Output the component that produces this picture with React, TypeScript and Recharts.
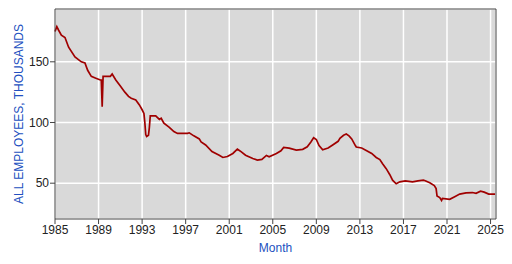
import {
  CartesianGrid,
  Line,
  LineChart,
  ReferenceLine,
  XAxis,
  YAxis,
} from "recharts";

// monthly readings, "YYYY-MM"
const months = [
  "1985-01", "1985-03", "1985-05", "1985-08", "1985-12", "1986-04", "1986-11",
  "1987-06", "1987-10", "1988-01", "1988-05", "1988-10", "1989-03", "1989-04",
  "1989-05", "1989-06", "1990-02", "1990-04", "1990-08", "1991-01", "1991-06",
  "1991-10", "1992-01", "1992-06", "1992-10", "1993-01", "1993-03", "1993-04",
  "1993-05", "1993-06", "1993-08", "1993-09", "1993-10", "1994-04", "1994-08",
  "1994-10", "1995-01", "1995-07", "1995-12", "1996-04", "1997-03", "1997-05",
  "1997-10", "1998-04", "1998-06", "1998-11", "1999-06", "2000-02", "2000-06",
  "2000-11", "2001-05", "2001-10", "2002-02", "2002-07", "2003-03", "2003-08",
  "2004-01", "2004-06", "2004-09", "2005-05", "2005-10", "2006-01", "2006-07",
  "2007-03", "2007-10", "2008-03", "2008-07", "2008-10", "2009-01", "2009-04",
  "2009-08", "2010-02", "2010-07", "2011-01", "2011-03", "2011-07", "2011-10",
  "2012-01", "2012-04", "2012-08", "2012-09", "2013-03", "2013-08", "2014-02",
  "2014-07", "2014-11", "2015-02", "2015-06", "2015-10", "2016-01", "2016-05",
  "2016-09", "2017-03", "2017-11", "2018-05", "2018-11", "2019-01", "2019-06",
  "2019-11", "2020-01", "2020-02", "2020-05", "2020-07", "2020-08", "2021-04",
  "2021-10", "2022-03", "2022-10", "2023-05", "2023-09", "2024-02", "2024-06",
  "2024-11", "2025-06",
];

// all employees, thousands
const employees = [
  175, 179, 176, 172, 170, 162, 154,
  150, 149, 143, 138, 136.5, 135, 135,
  113, 138, 138, 140, 135, 130, 125,
  121.5, 120, 118.5, 114.5, 110.5, 107.5, 100,
  90, 88.5, 89.5, 96, 105.5, 105.5, 102.5,
  103.5, 99.5, 96, 92.5, 91, 91, 91.5,
  89, 86.5, 84, 81.5, 76, 73, 71.2,
  72, 74.5, 78, 76, 73, 70.4, 69,
  69.6, 72.9, 71.8, 74.5, 76.7, 79.5, 78.9,
  77.3, 77.9, 80, 84, 87.5, 86, 81,
  77.5, 79, 81.5, 84.5, 87, 89.5, 90.5,
  89, 86.5, 81, 79.8, 79, 77, 74.5,
  71.2, 69.5, 66, 62, 57, 52.5, 49.5,
  51.1, 51.9, 51.1, 51.9, 52.5, 52, 50.3,
  48, 45.6, 39.5, 38.2, 35.8, 37.5, 36.7,
  39, 41, 42, 42.3, 41.6, 43.4, 42.6,
  41, 41,
];

const yearTicks = [1985, 1989, 1993, 1997, 2001, 2005, 2009, 2013, 2017, 2021, 2025];
const valueTicks = [50, 100, 150];

const data = months.map((m, i) => {
  const [y, mo] = m.split("-").map(Number);
  return {t: y + (mo - 1) / 12, value: employees[i]};
});

const FONT = '"Liberation Sans", Arial, sans-serif';
const BLUE = "#2250c0";
const FRAME = "#444";

export default function App() {
  return (
    <div style={{position: "absolute", left: 0, top: 0, fontFamily: FONT}}>
      <LineChart
        width={512}
        height={264}
        data={data}
        margin={{top: 9, right: 16, bottom: 0, left: 0}}
      >
        <CartesianGrid fill="#d9d9d9" stroke="#ffffff" strokeWidth={1.5} />
        <XAxis
          dataKey="t"
          type="number"
          domain={[1985, 2025.5]}
          ticks={yearTicks}
          height={45}
          tickSize={5}
          tickMargin={1}
          stroke={FRAME}
          tick={{fill: "#222", fontSize: 12, fontFamily: FONT}}
          label={{value: "Month", position: "center", dy: 6, fill: BLUE, fontSize: 12, fontFamily: FONT}}
        />
        <YAxis
          type="number"
          domain={[20.5, 193.5]}
          ticks={valueTicks}
          width={55}
          tickSize={5}
          tickMargin={1}
          stroke={FRAME}
          tick={{fill: "#222", fontSize: 12, fontFamily: FONT}}
          label={{
            value: "ALL EMPLOYEES, THOUSANDS",
            angle: -90,
            position: "center",
            dx: -9,
            fill: BLUE,
            fontSize: 12,
            fontFamily: FONT,
          }}
        />
        <ReferenceLine y={193.5} stroke={FRAME} />
        <ReferenceLine x={2025.5} stroke={FRAME} />
        <Line
          type="linear"
          dataKey="value"
          stroke="#a00000"
          strokeWidth={1.7}
          dot={false}
          isAnimationActive={false}
        />
      </LineChart>
    </div>
  );
}
